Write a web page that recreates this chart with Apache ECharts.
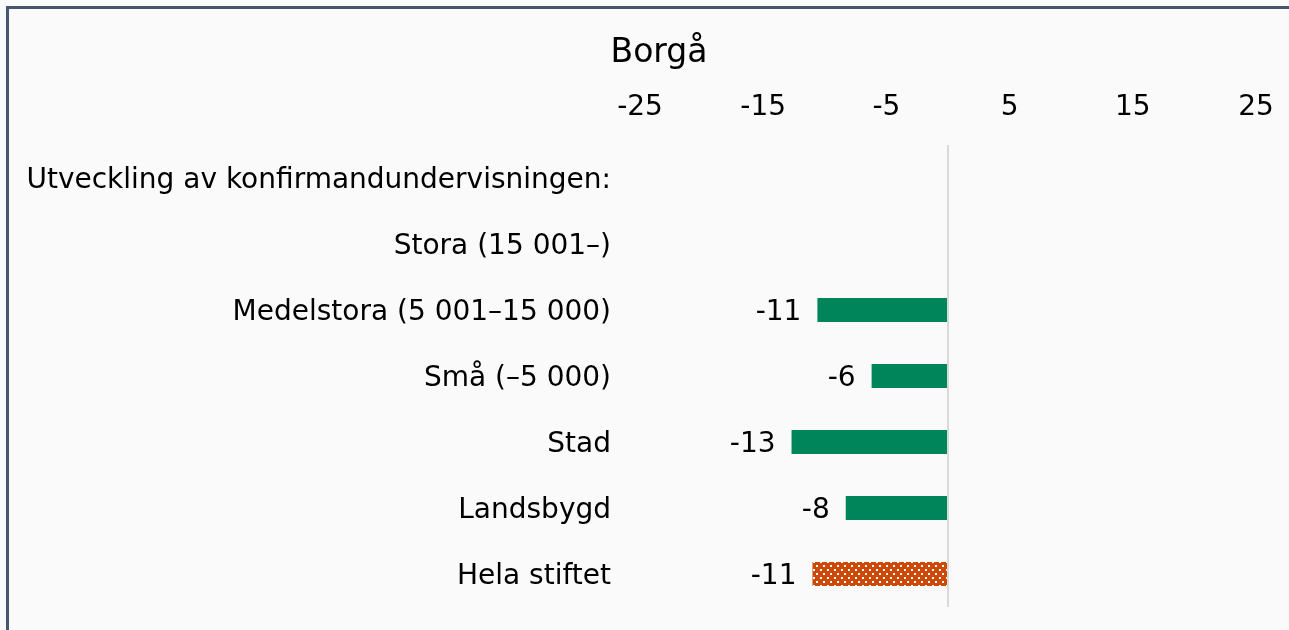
<!DOCTYPE html>
<html>
<head>
<meta charset="utf-8">
<script src="https://cdn.jsdelivr.net/npm/echarts@6/dist/echarts.min.js"></script>
<style>
  html, body { margin: 0; padding: 0; background: #fafafa; overflow: hidden; }
  #frame {
    position: absolute; left: 6px; top: 6px;
    width: 1320px; height: 700px;
    border: 3px solid #46566e;
    box-sizing: border-box;
  }
  #main { position: absolute; left: 0; top: 0; width: 1289px; height: 630px; }
</style>
</head>
<body>
<div id="frame"></div>
<div id="main"></div>
<script>
// categories top to bottom
var categories = ['Utveckling av konfirmandundervisningen:', 'Stora (15 001–)', 'Medelstora (5 001–15 000)',
  'Små (–5 000)', 'Stad', 'Landsbygd', 'Hela stiftet']
// change in percent, '-' = no value
var values = ['-', '-', -10.6, -6.2, -12.7, -8.3, -11.0]
var highlight = 'Hela stiftet'
var xTicks = { min: -25, max: 25, interval: 10 }

var font = 'DejaVu Sans, Verdana, sans-serif'
var green = '#00855a'
var orange = '#cc4a06'

// small dotted tile for the highlighted bar
function dotTile() {
  var c = document.createElement('canvas')
  c.width = 14
  c.height = 8
  var ctx = c.getContext('2d')
  ctx.fillStyle = orange
  ctx.fillRect(0, 0, 14, 8)
  ctx.fillStyle = '#ffffff'
  ctx.fillRect(1, 1, 2, 2)
  ctx.fillRect(8, 1, 2, 2)
  ctx.fillRect(4, 5, 2, 2)
  ctx.fillRect(11, 5, 2, 2)
  return c
}

var chart = echarts.init(document.getElementById('main'), null, { renderer: 'canvas' })

var seriesData = values.map(function (v, i) {
  var item = { value: v }
  if (categories[i] === highlight) {
    item.itemStyle = { color: { image: dotTile(), repeat: 'repeat' } }
  }
  return item
})

chart.setOption({
  backgroundColor: 'transparent',
  animation: false,
  title: {
    text: 'Borgå',
    left: 654,
    top: 32,
    textAlign: 'center',
    textStyle: { fontFamily: font, fontSize: 33, fontWeight: 'normal', color: '#000' }
  },
  grid: { left: 640, right: 33, top: 145, bottom: 23, containLabel: false },
  xAxis: {
    type: 'value',
    position: 'top',
    min: xTicks.min,
    max: xTicks.max,
    interval: xTicks.interval,
    axisLine: { show: false },
    axisTick: { show: false },
    splitLine: { show: false },
    axisLabel: { margin: 23, fontFamily: font, fontSize: 28, color: '#000' }
  },
  yAxis: {
    type: 'category',
    inverse: true,
    data: categories,
    axisLine: { show: false },
    axisTick: { show: false },
    axisLabel: {
      margin: 29,
      formatter: function (v) { return '{a|' + v + '}' },
      rich: { a: { fontFamily: font, fontSize: 28, color: '#000', padding: [6, 0, 0, 0] } }
    }
  },
  series: [{
    type: 'bar',
    data: seriesData,
    barWidth: 24,
    itemStyle: { color: green },
    label: {
      show: true,
      position: 'left',
      distance: 16,
      fontFamily: font,
      fontSize: 28,
      color: '#000',
      offset: [0, 3],
      formatter: function (p) { return Math.round(p.value) }
    },
    markLine: {
      silent: true,
      symbol: 'none',
      label: { show: false },
      lineStyle: { color: '#d9d9d9', width: 2, type: 'solid' },
      data: [{ xAxis: 0 }]
    }
  }]
})
</script>
</body>
</html>
